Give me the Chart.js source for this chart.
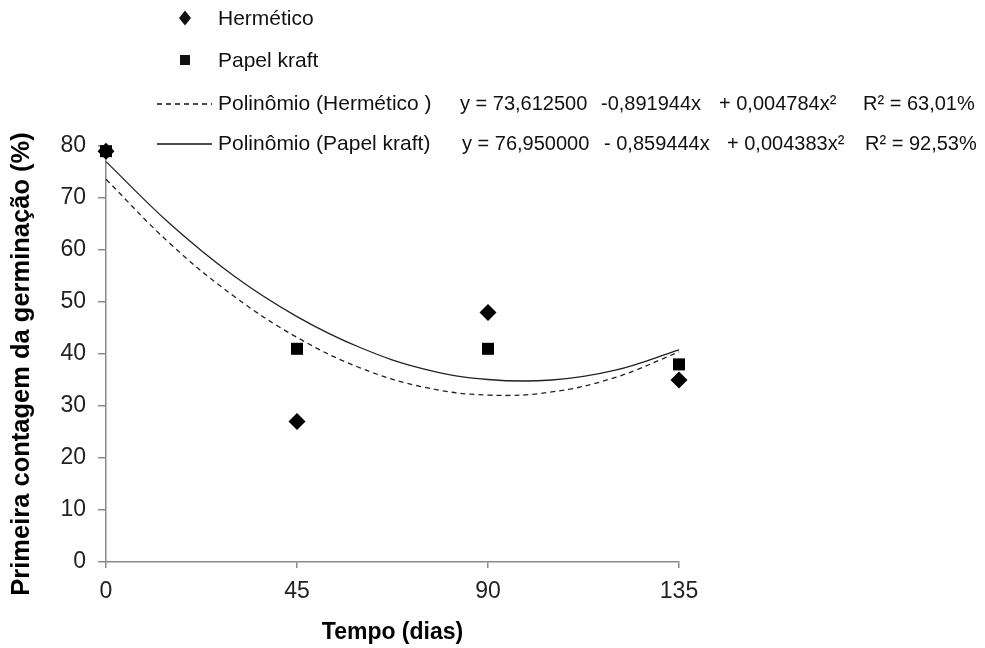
<!DOCTYPE html>
<html>
<head>
<meta charset="utf-8">
<script src="https://cdn.jsdelivr.net/npm/chart.js@4"></script>
<style>
  html, body { margin: 0; padding: 0; background: #fff; }
  #wrap { position: relative; width: 985px; height: 648px; }
</style>
</head>
<body>
<div id="wrap"><canvas id="c" width="985" height="648"></canvas></div>
<script>
// ---- data ----
const days = [0, 45, 90, 135];
const hermetico = [79, 27, 48, 35];
const papelKraft = [79, 41, 41, 38];

const fitDays = [0, 15, 30, 45, 60, 75, 90, 105, 120, 135];
const fitHermetico = [73.6, 61.3, 51.2, 43.2, 37.3, 33.6, 32.1, 32.7, 35.5, 40.4];
const fitPapelKraft = [77.0, 65.1, 55.1, 47.2, 41.2, 37.1, 35.1, 35.0, 36.9, 40.8];

const xTicks = [0, 45, 90, 135];
const yTicks = [0, 10, 20, 30, 40, 50, 60, 70, 80];

const seriesNames = ['Hermético', 'Papel kraft', 'Polinômio (Hermético )', 'Polinômio (Papel kraft)'];
const eqHermetico = ['y = 73,612500', '-0,891944x', '+ 0,004784x²', 'R² = 63,01%'];
const eqPapelKraft = ['y = 76,950000', '- 0,859444x', '+ 0,004383x²', 'R² = 92,53%'];

const xTitle = 'Tempo (dias)';
const yTitle = 'Primeira contagem da germinação (%)';

const toXY = (xs, ys) => xs.map((x, i) => ({ x: x, y: ys[i] }));

const FONT = "'Liberation Sans', Arial, sans-serif";
const AXIS = '#8a8a8a';
const INK = '#111';

const legendPlugin = {
  id: 'customLegend',
  afterDraw(chart) {
    const ctx = chart.ctx;
    ctx.save();
    ctx.fillStyle = INK;
    ctx.strokeStyle = INK;
    ctx.textBaseline = 'middle';
    ctx.textAlign = 'left';
    // diamond
    const r = 7.5;
    ctx.beginPath();
    ctx.moveTo(185, 18 - r); ctx.lineTo(185 + r * 0.8, 18); ctx.lineTo(185, 18 + r); ctx.lineTo(185 - r * 0.8, 18);
    ctx.closePath(); ctx.fill();
    ctx.font = '21px ' + FONT;
    ctx.fillText(seriesNames[0], 218, 19);
    // square
    ctx.fillRect(180, 55, 10, 10);
    ctx.fillText(seriesNames[1], 218, 61);
    // dashed line
    ctx.lineWidth = 1.3;
    ctx.setLineDash([5, 4]);
    ctx.beginPath(); ctx.moveTo(157, 104); ctx.lineTo(212, 104); ctx.stroke();
    ctx.setLineDash([]);
    ctx.fillText(seriesNames[2], 218, 104);
    ctx.beginPath(); ctx.moveTo(157, 144); ctx.lineTo(212, 144); ctx.stroke();
    ctx.fillText(seriesNames[3], 218, 144);
    // equations
    ctx.font = '20px ' + FONT;
    const pos1 = [460, 601, 719, 863];
    const pos2 = [462, 604, 727, 865];
    eqHermetico.forEach((t, i) => ctx.fillText(t, pos1[i], 104));
    eqPapelKraft.forEach((t, i) => ctx.fillText(t, pos2[i], 144));
    // y axis title
    ctx.save();
    ctx.translate(22, 364);
    ctx.rotate(-Math.PI / 2);
    ctx.textAlign = 'center';
    ctx.fillStyle = '#000';
    ctx.font = 'bold 25.5px ' + FONT;
    ctx.fillText(yTitle, 0, 0);
    ctx.restore();
    ctx.restore();
  }
};

new Chart(document.getElementById('c'), {
  type: 'scatter',
  data: {
    datasets: [
      {
        label: seriesNames[0],
        data: toXY(days, hermetico),
        pointStyle: 'rectRot',
        pointRadius: 8.5,
        pointHoverRadius: 8.5,
        backgroundColor: '#000',
        borderColor: '#000',
        borderWidth: 0,
        showLine: false,
        clip: false
      },
      {
        label: seriesNames[1],
        data: toXY(days, papelKraft),
        pointStyle: 'rect',
        pointRadius: 8.5,
        pointHoverRadius: 8.5,
        backgroundColor: '#000',
        borderColor: '#000',
        borderWidth: 0,
        showLine: false,
        clip: false
      },
      {
        label: seriesNames[2],
        data: toXY(fitDays, fitHermetico),
        showLine: true,
        pointRadius: 0,
        borderColor: '#222',
        borderWidth: 1.3,
        borderDash: [5, 4],
        tension: 0.4,
        fill: false,
        clip: false
      },
      {
        label: seriesNames[3],
        data: toXY(fitDays, fitPapelKraft),
        showLine: true,
        pointRadius: 0,
        borderColor: '#222',
        borderWidth: 1.3,
        tension: 0.4,
        fill: false,
        clip: false
      }
    ]
  },
  options: {
    responsive: false,
    animation: false,
    events: [],
    layout: { padding: { top: 146, right: 306, bottom: 0, left: 0 } },
    plugins: {
      legend: { display: false },
      tooltip: { enabled: false }
    },
    scales: {
      x: {
        type: 'linear',
        min: 0, max: 135,
        afterBuildTicks(scale) { scale.ticks = xTicks.map(v => ({ value: v })); },
        afterFit(scale) { scale.height = 86; },
        ticks: { font: { size: 23, family: FONT }, color: '#222', padding: 10 },
        grid: { drawOnChartArea: false, drawTicks: true, tickLength: 6, color: AXIS, lineWidth: 1.5 },
        border: { color: AXIS, width: 1.5 },
        title: { display: true, text: xTitle, font: { size: 23, weight: 'bold', family: FONT }, color: '#000', padding: { top: 0, bottom: 2 } }
      },
      y: {
        min: 0, max: 80,
        afterBuildTicks(scale) { scale.ticks = yTicks.map(v => ({ value: v })); },
        afterFit(scale) { scale.width = 106; },
        ticks: { font: { size: 23, family: FONT }, color: '#222', padding: 12 },
        grid: { drawOnChartArea: false, drawTicks: true, tickLength: 8, color: AXIS, lineWidth: 1.5 },
        border: { color: AXIS, width: 1.5 },
        title: { display: false, text: yTitle }
      }
    }
  },
  plugins: [legendPlugin]
});
</script>
</body>
</html>
